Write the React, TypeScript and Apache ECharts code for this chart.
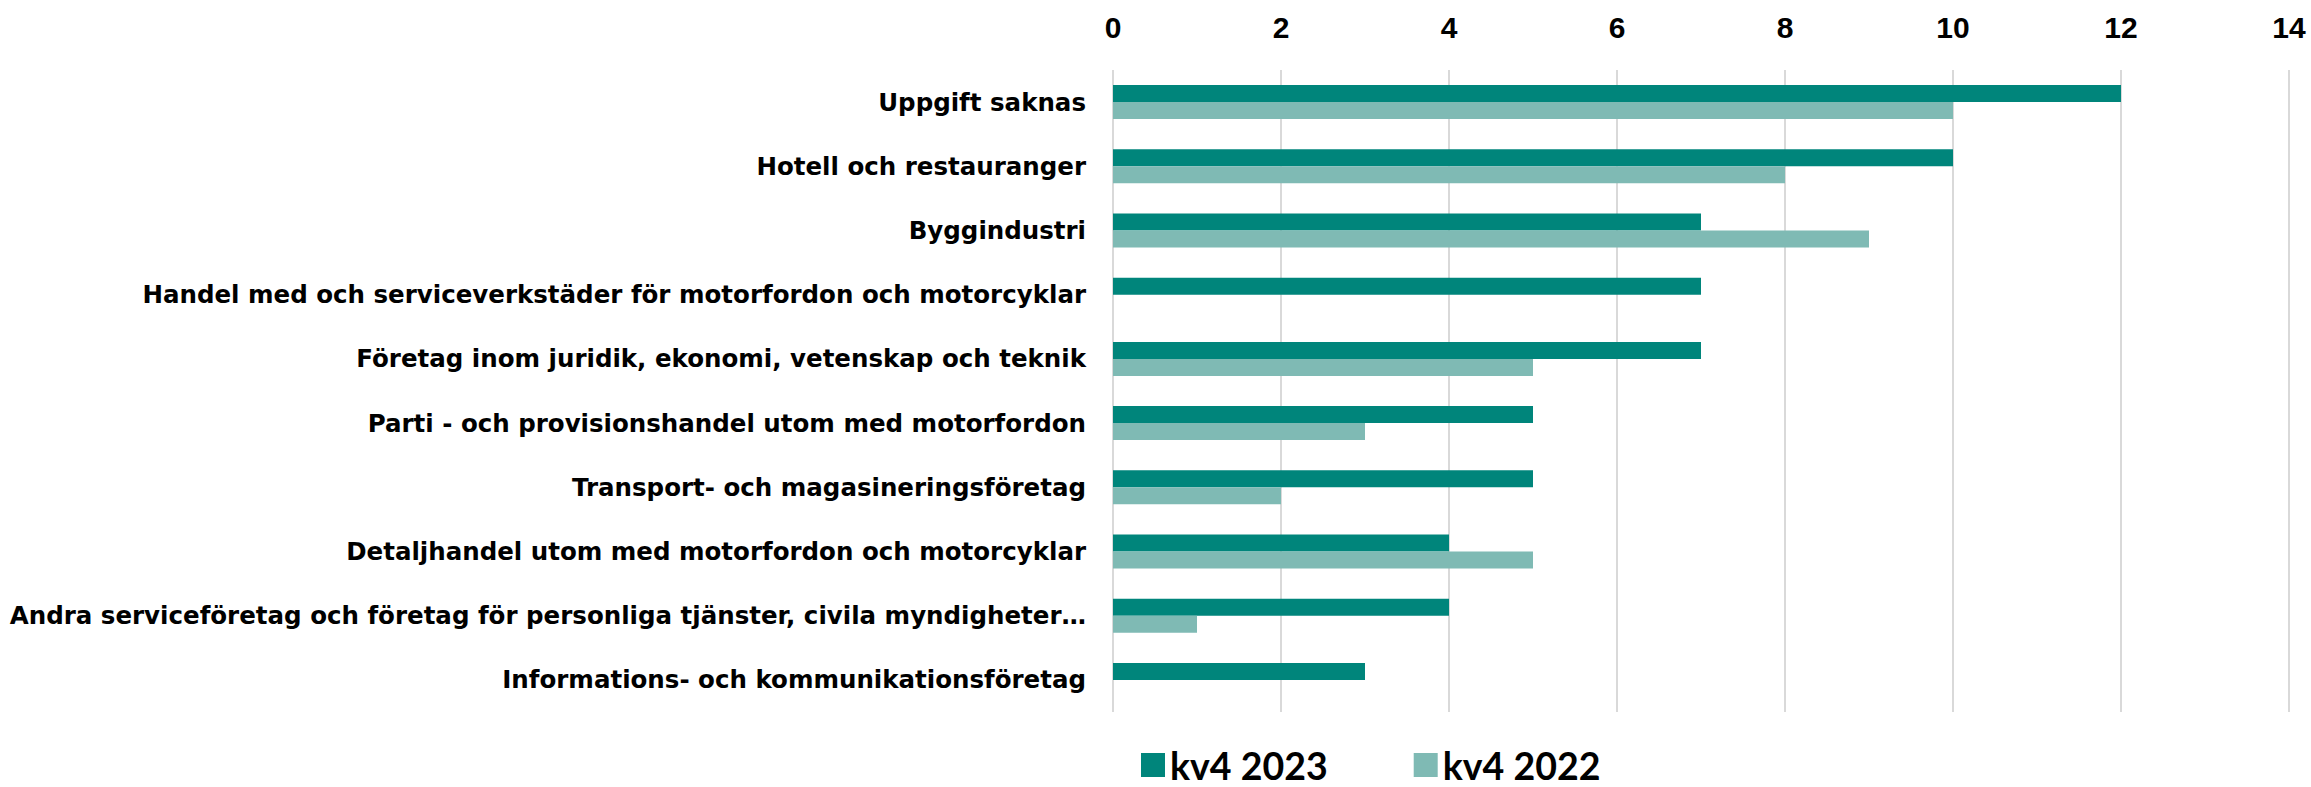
import React, { useEffect, useRef } from "react";
import * as echarts from "echarts";

const categories = [
  "Uppgift saknas",
  "Hotell och restauranger",
  "Byggindustri",
  "Handel med och serviceverkstäder för motorfordon och motorcyklar",
  "Företag inom juridik, ekonomi, vetenskap och teknik",
  "Parti - och provisionshandel utom med motorfordon",
  "Transport- och magasineringsföretag",
  "Detaljhandel utom med motorfordon och motorcyklar",
  "Andra serviceföretag och företag för personliga tjänster, civila myndigheter…",
  "Informations- och kommunikationsföretag",
];
const kv4_2023 = [12, 10, 7, 7, 7, 5, 5, 4, 4, 3];
const kv4_2022 = [10, 8, 9, null, 5, 3, 2, 5, 1, null];
const seriesNames = ["kv4 2023", "kv4 2022"];
const xMin = 0;
const xMax = 14;
const xInterval = 2;

export default function App() {
  const ref = useRef<HTMLDivElement>(null);
  useEffect(() => {
    document.body.style.margin = "0";
    if (!ref.current) return;
    const chart = echarts.init(ref.current, null, { renderer: "svg" });
    chart.setOption({
      animation: false,
      backgroundColor: "#ffffff",
      grid: {
        left: 1113,
        right: 22,
        top: 70,
        bottom: 75,
        containLabel: false,
        outerBoundsMode: "none",
      },
      legend: {
        left: 1141,
        top: 746,
        padding: 0,
        itemWidth: 24,
        itemHeight: 24,
        itemGap: 86,
        icon: "rect",
        textStyle: {
          fontFamily: "Lato",
          fontWeight: "bold",
          fontSize: 37.5,
          color: "#000",
          lineHeight: 30,
          padding: [0, 0, 0, 0],
        },
        data: seriesNames,
      },
      xAxis: {
        type: "value",
        position: "top",
        min: xMin,
        max: xMax,
        interval: xInterval,
        axisLine: { show: false },
        axisTick: { show: false },
        splitLine: { show: true, lineStyle: { color: "#d9d9d9", width: 2 } },
        axisLabel: {
          margin: 28,
          fontFamily: "Liberation Sans",
          fontWeight: "bold",
          fontSize: 30,
          color: "#000",
        },
      },
      yAxis: {
        type: "category",
        inverse: true,
        data: categories,
        axisLine: { show: false },
        axisTick: { show: false },
        axisLabel: {
          margin: 27,
          fontFamily: "DejaVu Sans",
          fontWeight: "bold",
          fontSize: 24.5,
          color: "#000",
        },
      },
      series: [
        {
          name: seriesNames[0],
          type: "bar",
          data: kv4_2023,
          barWidth: 17,
          barGap: "0%",
          itemStyle: { color: "#00857B" },
        },
        {
          name: seriesNames[1],
          type: "bar",
          data: kv4_2022,
          barWidth: 17,
          barGap: "0%",
          itemStyle: { color: "#7FBAB4" },
        },
      ],
    });
    return () => chart.dispose();
  }, []);
  return <div ref={ref} style={{ width: 2311, height: 787 }} />;
}
